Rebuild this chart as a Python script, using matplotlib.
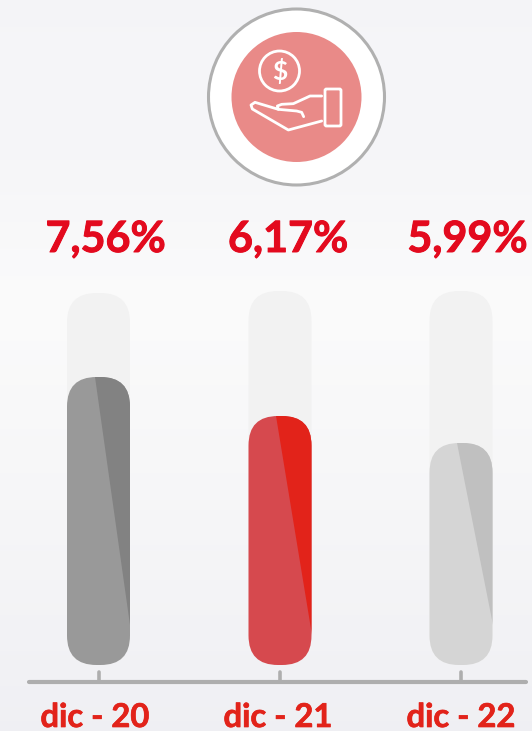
import numpy as np
import matplotlib
matplotlib.use('Agg')
import matplotlib.pyplot as plt
import matplotlib.patheffects as pe
from matplotlib.patches import FancyBboxPatch, Circle, Polygon, PathPatch
from matplotlib.path import Path

plt.rcParams['font.family'] = ['Lato', 'DejaVu Sans']

# values
categories = ['dic - 20', 'dic - 21', 'dic - 22']
rates = ['7,56%', '6,17%', '5,99%']
fill_heights = [288, 249, 222]   # drawn height of each bar, px
track_heights = [372, 374, 374]

centers = [98.5, 280, 461]
value_x = [105.5, 288, 467.5]
label_x = [95, 278, 461]
bar_colors = ['#999999', '#d6494e', '#d5d5d5']
dark_colors = ['#828282', '#e2231a', '#c0c0c0']
dark_ends = [625, 635, 625]
base_y = 665
bar_w = 63
radius = 29.5

fig = plt.figure(figsize=(5.32, 7.31), dpi=100)
ax = fig.add_axes([0, 0, 1, 1])
ax.axis('off')

# background, light in the middle and a bit darker at both ends
stops_y = [0, 170, 300, 480, 731]
stops_r = [0.960, 0.965, 0.984, 0.968, 0.940]
stops_b = [0.972, 0.975, 0.984, 0.974, 0.955]
rows = np.arange(731)
r = np.interp(rows, stops_y, stops_r)
b = np.interp(rows, stops_y, stops_b)
bg = np.stack([r, r, b], axis=1)[:, None, :]
ax.imshow(bg, extent=(0, 532, 731, 0), aspect='auto', zorder=0)
ax.set_xlim(0, 532)
ax.set_ylim(731, 0)

def pill(cx, height, color, z):
    p = FancyBboxPatch((cx - bar_w / 2, base_y - height), bar_w, height,
                       boxstyle=f'round,pad=0,rounding_size={radius}',
                       fc=color, ec='none', zorder=z)
    ax.add_patch(p)
    return p

for i, cx in enumerate(centers):
    pill(cx, track_heights[i], '#f2f2f2', 2)
    bar = pill(cx, fill_heights[i], bar_colors[i], 3)
    # darker wedge down the right side of the bar
    top = base_y - fill_heights[i]
    left = cx - 4
    wedge = Polygon([(left, top), (cx + 40, top), (cx + 40, dark_ends[i]),
                     (cx + bar_w / 2, dark_ends[i])],
                    fc=dark_colors[i], ec='none', zorder=4)
    ax.add_patch(wedge)
    wedge.set_clip_path(bar)
    t = ax.text(value_x[i], 239, rates[i], color='#e30a1e', fontsize=31,
                fontweight='bold', ha='center', va='center', zorder=6)
    t.set_path_effects([pe.withStroke(linewidth=0.7, foreground='#e30a1e')])
    t = ax.text(label_x[i], 727, categories[i], color='#e2231a', fontsize=23.6,
                fontweight='bold', ha='center', va='baseline', zorder=6)
    t.set_path_effects([pe.withStroke(linewidth=0.5, foreground='#e2231a')])
    ax.plot([cx, cx], [672, 682], color='#aeaeae', lw=2.6,
            solid_capstyle='round', zorder=3)

# axis line
ax.plot([29, 526], [682, 682], color='#aeaeae', lw=3,
        solid_capstyle='round', zorder=3)

# icon on top
ax.add_patch(Circle((296.5, 97), 88, fc='white', ec='#b0b0b0', lw=2.2, zorder=2))
ax.add_patch(Circle((296.5, 97), 65, fc='#e98a88', ec='none', zorder=3))
ax.add_patch(Circle((279.5, 71), 20, fc='none', ec='white', lw=2, zorder=4))
ax.text(279.5, 71, '$', color='white', fontsize=19, fontweight='bold',
        ha='center', va='center', zorder=5)
ax.add_patch(FancyBboxPatch((325, 89), 16, 37,
                            boxstyle='round,pad=0,rounding_size=1.5',
                            fc='none', ec='white', lw=2, zorder=4))

def zp(pts):
    return [(190 + x / 3, y / 3) for x, y in pts]

hand_lower = zp([(395, 288), (360, 288), (345, 295), (310, 311), (275, 313),
                 (262, 318), (265, 328), (195, 307), (183, 315), (187, 327),
                 (295, 390), (395, 363)])
ax.add_patch(PathPatch(Path(hand_lower), fc='none', ec='white', lw=2,
                       joinstyle='round', capstyle='round', zorder=4))
finger = zp([(265, 328), (320, 333), (335, 337), (341, 350)])
ax.add_patch(PathPatch(Path(finger), fc='none', ec='white', lw=2,
                       joinstyle='round', capstyle='round', zorder=4))

fig.savefig('out.png', dpi=100)
